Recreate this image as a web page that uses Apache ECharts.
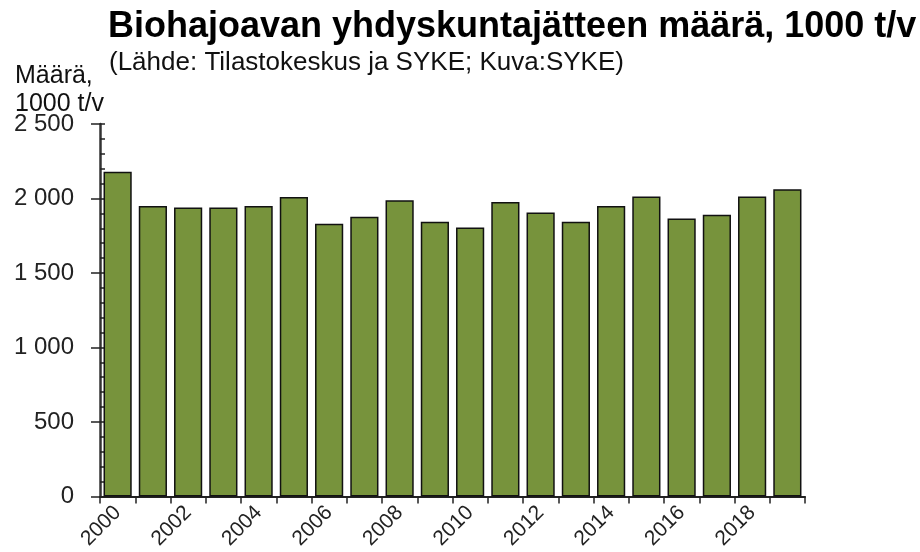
<!DOCTYPE html>
<html>
<head>
<meta charset="utf-8">
<script src="https://cdn.jsdelivr.net/npm/echarts@6/dist/echarts.min.js"></script>
<style>
html,body{margin:0;padding:0;background:#fff;}
#chart{width:920px;height:552px;}
</style>
</head>
<body>
<div id="chart"></div>
<script>
const titleText = 'Biohajoavan yhdyskuntajätteen määrä, 1000 t/v';
const subtitleText = '(Lähde: Tilastokeskus ja SYKE; Kuva:SYKE)';
const yAxisTitle = 'Määrä,\n1000 t/v';
const years = ['2000','2001','2002','2003','2004','2005','2006','2007','2008','2009',
               '2010','2011','2012','2013','2014','2015','2016','2017','2018','2019'];
const values = [2180, 1950, 1940, 1940, 1950, 2010, 1830, 1877, 1988, 1843,
                1805, 1977, 1906, 1843, 1950, 2013, 1865, 1890, 2013, 2062];
const yMin = 0, yMax = 2500, yStep = 500;

const FONT = '"Liberation Sans", Arial, sans-serif';
function fmt(v){
  return String(v).replace(/\B(?=(\d{3})+(?!\d))/g, ' ');
}

const chart = echarts.init(document.getElementById('chart'), null, {renderer:'canvas'});
chart.setOption({
  backgroundColor: '#ffffff',
  animation: false,
  title: [
    {text: titleText, left: 103, top: 4,
     textStyle: {fontFamily: FONT, fontSize: 36, fontWeight: 'bold', color: '#000'}},
    {text: subtitleText, left: 104, top: 45,
     textStyle: {fontFamily: FONT, fontSize: 26, fontWeight: 'normal', color: '#111'}},
    {text: yAxisTitle, left: 10, top: 57,
     textStyle: {fontFamily: FONT, fontSize: 25, fontWeight: 'normal', color: '#111', lineHeight: 28, align: 'center'}}
  ],
  grid: {left: 100, right: 115, top: 124, bottom: 55, containLabel: false},
  xAxis: {
    type: 'category',
    data: years,
    boundaryGap: true,
    axisLine: {show: true, lineStyle: {color: '#222', width: 2}},
    axisTick: {show: true, interval: 0, length: 7, lineStyle: {color: '#222', width: 1.5}},
    axisLabel: {interval: 1, rotate: 45, fontFamily: FONT, fontSize: 21, color: '#222', margin: 13},
    splitLine: {show: false}
  },
  yAxis: [
    {
      type: 'value', min: yMin, max: yMax, interval: yStep,
      axisLine: {show: true, lineStyle: {color: '#333', width: 2.5}},
      axisTick: {show: true, length: 9, lineStyle: {color: '#222', width: 1.5}},
      axisLabel: {formatter: fmt, fontFamily: FONT, fontSize: 24, color: '#222', margin: 26},
      splitLine: {show: false}
    },
    {
      type: 'value', min: yMin, max: yMax, interval: yStep, position: 'left',
      axisLine: {show: false},
      axisTick: {show: true, inside: true, length: 5, lineStyle: {color: '#222', width: 1.5}},
      minorTick: {show: true, splitNumber: 5, length: 5, lineStyle: {color: '#222', width: 1.5}},
      axisLabel: {show: false},
      splitLine: {show: false}
    }
  ],
  series: [{
    type: 'bar',
    data: values,
    barCategoryGap: '20%',
    itemStyle: {color: '#77933C', borderColor: '#111', borderWidth: 1.5}
  }]
});
</script>
</body>
</html>
